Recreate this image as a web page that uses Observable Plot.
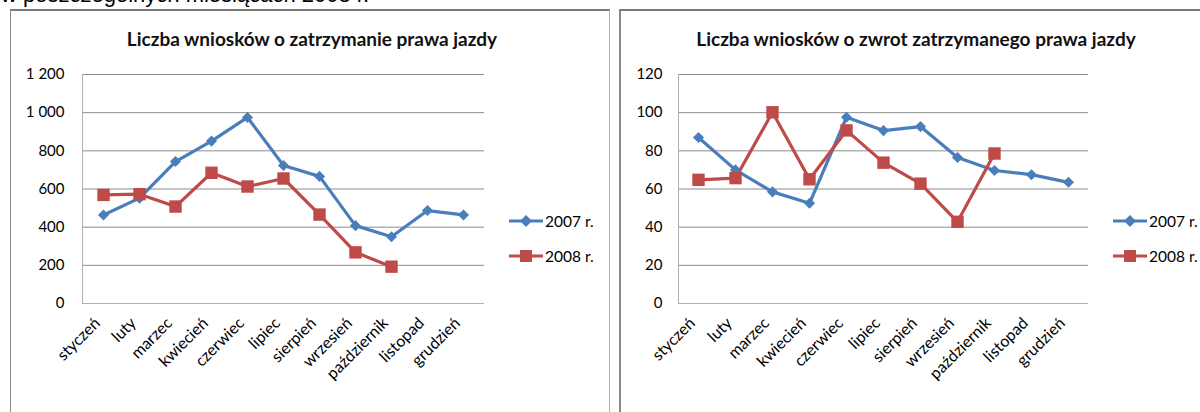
<!DOCTYPE html>
<html><head><meta charset="utf-8">
<script src="https://cdn.jsdelivr.net/npm/d3@7"></script>
<script src="https://cdn.jsdelivr.net/npm/@observablehq/plot@0.6"></script>
<style>
html,body{margin:0;padding:0}
body{width:1200px;height:412px;overflow:hidden;background:#fff;position:relative;font-family:Lato,"Open Sans",sans-serif}
#top{position:absolute;left:1px;top:-18px;font-family:"Liberation Sans",Arial,sans-serif;font-size:22px;color:#000;white-space:nowrap}
.panel{position:absolute;top:9px;height:420px;background:#fff;border-top:2px solid #7a7a7a}
#p1{left:10px;width:598px;border-left:1px solid #8a8a8a;border-right:1px solid #b0b0b0}
#p2{left:619px;width:600px;border-left:2px solid #888}
.title{position:absolute;top:27px;font-family:Lato,sans-serif;font-weight:bold;font-size:19px;color:#111;white-space:nowrap;transform:translateX(-50%)}
.chart{position:absolute;top:0;width:600px;height:412px}
.legend{position:absolute;font-family:Lato,sans-serif;font-size:15.5px;color:#000}
.legend div{display:flex;align-items:center;height:20px;margin-bottom:15px}
.legend svg{margin-right:2px}
</style></head><body>
<div id="top">w poszczególnych miesiącach 2008 r.</div>
<div class="panel" id="p1"></div>
<div class="panel" id="p2"></div>
<div class="title" id="t1" style="left:312px"></div>
<div class="title" id="t2" style="left:916px"></div>
<div class="chart" id="c1" style="left:0"></div>
<div class="chart" id="c2" style="left:600px"></div>
<div class="legend" id="l1" style="left:509px;top:211px"></div>
<div class="legend" id="l2" style="left:1113px;top:211px"></div>
<script>
const months = ["styczeń","luty","marzec","kwiecień","czerwiec","lipiec","sierpień","wrzesień","październik","listopad","grudzień"];
const seriesNames = ["2007 r.","2008 r."];
const seriesColors = ["#4A7EBB","#BE4B48"];
const titles = ["Liczba wniosków o zatrzymanie prawa jazdy","Liczba wniosków o zwrot zatrzymanego prawa jazdy"];
// Chart 1: zatrzymanie
const zatrzymanie2007 = [464,552,744,851,975,723,666,408,350,487,464];
const zatrzymanie2008 = [569,573,508,685,613,655,466,268,193,null,null];
const ticks1 = [0,200,400,600,800,1000,1200];
// Chart 2: zwrot
const zwrot2007 = [87,70,58.5,52.5,97.6,90.6,92.7,76.5,69.7,67.5,63.5];
const zwrot2008 = [64.8,65.7,100.2,65.1,90.7,73.8,62.8,42.8,78.6,null,null];
const ticks2 = [0,20,40,60,80,100,120];

function rows(a, b) {
  const out = [];
  [a, b].forEach((vals, si) => vals.forEach((v, i) => {
    if (v != null) out.push({month: months[i], series: seriesNames[si], value: v});
  }));
  return out;
}
const fmt = d => d3.format(",")(d).replace(/,/g, "\u00a0");

function chart(data, ticks, ml, mr, pad) {
  return Plot.plot({
    width: 600, height: 412,
    marginLeft: ml, marginRight: mr, marginTop: 74, marginBottom: 109,
    style: {fontFamily: "Lato, sans-serif", fontSize: "15px", color: "#000", background: "transparent", overflow: "visible"},
    x: {type: "point", domain: months, padding: 0.5, label: null},
    y: {domain: [0, ticks[ticks.length - 1]], label: null},
    color: {domain: seriesNames, range: seriesColors},
    marks: [
      Plot.gridY(ticks, {stroke: "#8c8c8c", strokeOpacity: 1}),
      Plot.frame({anchor: "left", stroke: "#b0b0b0"}),
      Plot.ruleY([0], {stroke: "#b0b0b0"}),
      Plot.axisY(ticks, {tickSize: 0, tickPadding: pad, tickFormat: fmt, label: null, fontSize: 15}),
      Plot.axisX({tickSize: 0, tickPadding: 17, dx: -6, tickRotate: -45, label: null, fontSize: 16}),
      Plot.line(data, {x: "month", y: "value", z: "series", stroke: "series", strokeWidth: 3.2}),
      Plot.dot(data.filter(d => d.series === seriesNames[0]), {x: "month", y: "value", fill: "series", symbol: "diamond2", r: 5, stroke: "none"}),
      Plot.dot(data.filter(d => d.series === seriesNames[1]), {x: "month", y: "value", fill: "series", symbol: "square", r: 7, stroke: "none"})
    ]
  });
}

document.getElementById("t1").textContent = titles[0];
document.getElementById("t2").textContent = titles[1];
document.getElementById("c1").append(chart(rows(zatrzymanie2007, zatrzymanie2008), ticks1, 82, 116, 18));
document.getElementById("c2").append(chart(rows(zwrot2007, zwrot2008), ticks2, 78, 112, 16));

function legend(el) {
  seriesNames.forEach((name, i) => {
    const row = document.createElement("div");
    const marker = i === 0
      ? `<path d="M17,4 L23,10 L17,16 L11,10 Z" fill="${seriesColors[i]}"/>`
      : `<rect x="11" y="4" width="12" height="12" fill="${seriesColors[i]}"/>`;
    row.innerHTML = `<svg width="34" height="20"><line x1="0" x2="34" y1="10" y2="10" stroke="${seriesColors[i]}" stroke-width="3.2"/>${marker}</svg><span>${name}</span>`;
    el.append(row);
  });
}
legend(document.getElementById("l1"));
legend(document.getElementById("l2"));
</script>
</body></html>
